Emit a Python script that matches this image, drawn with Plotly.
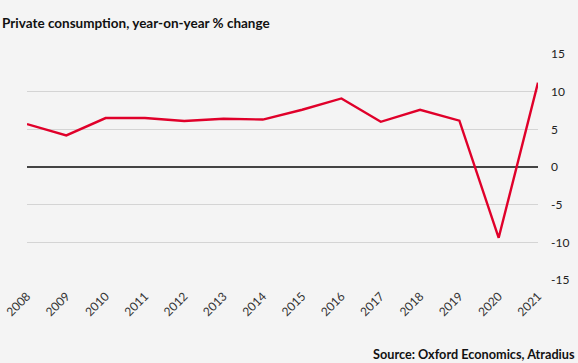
import plotly.graph_objects as go

years = [str(y) for y in range(2008, 2022)]
values = [5.7, 4.2, 6.5, 6.5, 6.1, 6.4, 6.3, 7.6, 9.1, 6.0, 7.6, 6.15, -9.4, 11.2]
y_ticks = [-15, -10, -5, 0, 5, 10, 15]
y_tick_text = [str(v) for v in y_ticks]

FONT = "Lato, 'Open Sans', sans-serif"
BG = "#f4f4f4"

fig = go.Figure()
fig.add_trace(go.Scatter(
    x=years, y=values, mode="lines",
    line=dict(color="#e0002a", width=2.4),
    hoverinfo="skip",
))

fig.update_layout(
    width=578, height=363,
    margin=dict(l=27, r=40, t=54, b=83),
    paper_bgcolor=BG, plot_bgcolor=BG,
    showlegend=False,
    font=dict(family=FONT, color="#222222", size=12),
    xaxis=dict(
        type="category", range=[0, len(years) - 1], automargin=False,
        showgrid=False, zeroline=False, showline=False,
        tickangle=-45, ticks="", ticklabelstandoff=6,
        tickfont=dict(size=12, color="#333333"),
    ),
    yaxis=dict(
        side="right", range=[-15, 15], tickvals=y_ticks, ticktext=y_tick_text,
        automargin=False,
        showgrid=True, gridcolor="#d4d4d4", gridwidth=1,
        zeroline=True, zerolinecolor="#444444", zerolinewidth=1.5,
        showline=False, ticks="", ticklabelstandoff=12,
        tickfont=dict(size=12, color="#222222"),
    ),
    annotations=[
        dict(text="<b>Private consumption, year-on-year % change</b>",
             xref="paper", yref="paper", x=-27/511, y=1 + 31/226,
             xanchor="left", yanchor="middle", showarrow=False,
             font=dict(size=13.5, color="#111111", family=FONT)),
        dict(text="<b>Source: Oxford Economics, Atradius</b>",
             xref="paper", yref="paper", x=(577 - 27) / 511, y=-(354 - 280) / 226,
             xanchor="right", yanchor="middle", showarrow=False,
             font=dict(size=12.7, color="#111111", family=FONT)),
    ],
)

fig.write_html("out.html")
